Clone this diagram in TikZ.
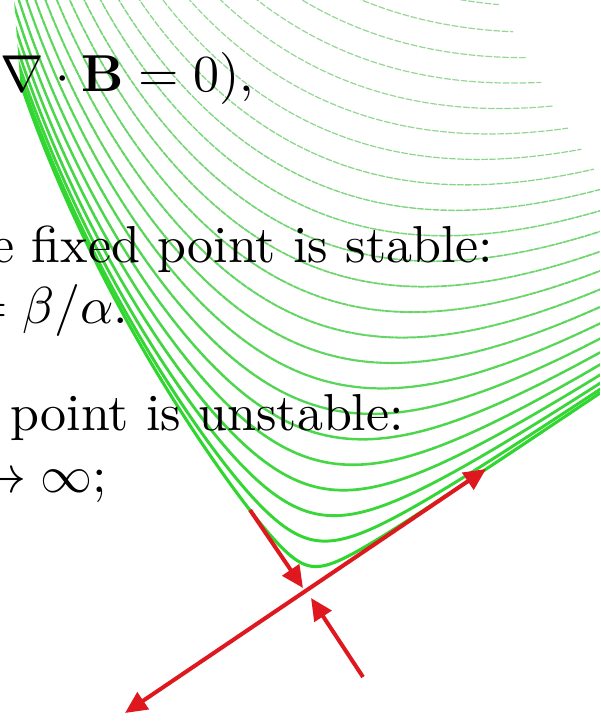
\documentclass[tikz,border=0pt]{standalone}
\usepackage{graphicx}
\usetikzlibrary{arrows.meta}
\definecolor{arrred}{RGB}{222,24,30}
\newcommand{\slidetext}[1]{\scalebox{2.6}{\fontsize{10}{12}\selectfont #1}}
\tikzset{
  txt/.style={anchor=base west, inner sep=0pt, text=black},
  flowline/.style={line width=#1, line cap=round},
  redarrow/.style={draw=arrred, line width=2pt},
  redtip/.tip={Triangle[length=11pt,width=10pt]}
}
\begin{document}
\begin{tikzpicture}[x=0.5pt,y=-0.5pt]
\useasboundingbox (0,0) rectangle (600,727);
\fill[white] (0,0) rectangle (600,727);
\clip (0,0) rectangle (600,727);
% flow lines around the saddle (hyperbola family in a bent frame)
\begin{scope}
\clip (14,0) -- (24,130) -- (24,727) -- (600,727) -- (600,0) -- cycle;
\foreach \k in {1,...,24}{
  \pgfmathsetmacro{\s}{17*\k}
  \pgfmathsetmacro{\wa}{-ln(660/\s)}
  \pgfmathsetmacro{\wb}{ln(480/\s)}
  \pgfmathtruncatemacro{\rr}{min(150,40+6*\k)}
  \pgfmathsetmacro{\lw}{max(0.6,1.6-0.06*\k)}
  \pgfmathsetmacro{\gap}{min(1.2,0.06*\k)}
  \definecolor{flowcol}{RGB}{\rr,214,\rr}
  \draw[flowline=\lw pt, draw=flowcol, dash pattern=on 3pt off \gap pt]
    plot[domain=\wa:\wb, samples=140, smooth]
    ({307-0.788*\s*exp(-\x)+(0.02098*\s*exp(-\x))^2+0.83*\s*exp(\x)},
     {592-\s*exp(-\x)-0.56*\s*exp(\x)});
}
\end{scope}
% red eigen-direction arrows
\coordinate (O) at (307,592);
\coordinate (U1) at (486,469);
\coordinate (U2) at (125,713);
\coordinate (S1) at (250,510);
\coordinate (T1) at (303,588);
\coordinate (S2) at (363,677);
\coordinate (T2) at (311,598);
\draw[redarrow, {redtip}-{redtip}] (U2) -- (U1);
\draw[redarrow, -{redtip}] (S1) -- (T1);
\draw[redarrow, -{redtip}] (S2) -- (T2);
% text fragments
\node[txt] (l1) at (0,92) {\slidetext{$\nabla\cdot\mathbf{B}=0)$,}};
\node[txt] (l2) at (-9,262) {\slidetext{e fixed point is stable:}};
\node[txt] (l3) at (-33,323) {\slidetext{$=\beta/\alpha$.}};
\node[txt] (l4) at (10,430) {\slidetext{point is unstable:}};
\node[txt] (l5) at (-26,492) {\slidetext{$\to\infty$;}};
\end{tikzpicture}
\end{document}
